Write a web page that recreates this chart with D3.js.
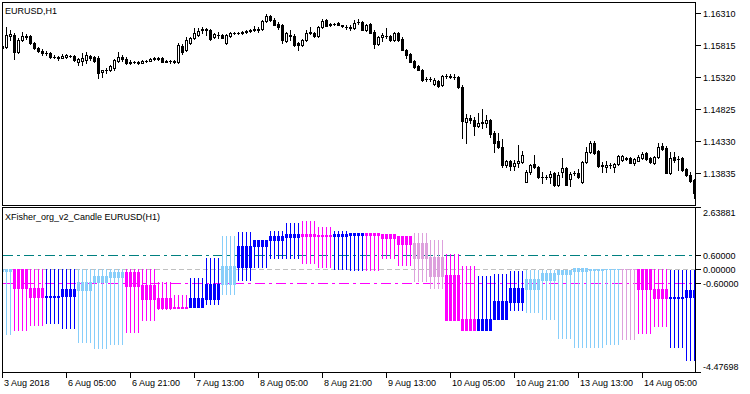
<!DOCTYPE html>
<html><head><meta charset="utf-8">
<script src="https://cdnjs.cloudflare.com/ajax/libs/d3/7.8.5/d3.min.js"></script>
<style>
body{margin:0;background:#fff}
svg{display:block}
text{font-family:"Liberation Sans",Arial,sans-serif;font-size:9px;fill:#000}
</style>
</head><body>
<svg id="c" width="750" height="394"></svg>
<script>
// ---------- DATA ----------
const symbolTitle = "EURUSD,H1";
const indicatorTitle = "XFisher_org_v2_Candle EURUSD(H1)";

const openP = [
1.1580,1.1578,1.1595,1.1597,1.1571,1.1589,1.1594,1.1595,1.1585,1.1577,
1.1572,1.1569,1.1569,1.1563,1.1563,1.1561,1.1563,1.1565,1.1565,1.1555,
1.1557,1.1558,1.1565,1.1563,1.1561,1.1540,1.1543,1.1543,1.1546,1.1557,
1.1563,1.1560,1.1554,1.1555,1.1555,1.1554,1.1557,1.1557,1.1560,1.1560,
1.1561,1.1555,1.1557,1.1557,1.1555,1.1580,1.1574,1.1585,1.1592,1.1597,
1.1605,1.1606,1.1605,1.1594,1.1597,1.1597,1.1585,1.1595,1.1600,1.1600,
1.1600,1.1602,1.1603,1.1605,1.1605,1.1606,1.1619,1.1626,1.1620,1.1614,
1.1612,1.1588,1.1597,1.1595,1.1585,1.1582,1.1589,1.1602,1.1600,1.1595,
1.1609,1.1620,1.1612,1.1614,1.1616,1.1612,1.1609,1.1609,1.1608,1.1617,
1.1617,1.1605,1.1614,1.1602,1.1583,1.1594,1.1595,1.1595,1.1589,1.1600,
1.1591,1.1574,1.1568,1.1557,1.1549,1.1543,1.1529,1.1529,1.1521,1.1526,
1.1520,1.1534,1.1534,1.1532,1.1532,1.1517,1.1462,1.1469,1.1466,1.1456,
1.1461,1.1461,1.1466,1.1445,1.1433,1.1424,1.1396,1.1402,1.1394,1.1399,
1.1401,1.1370,1.1385,1.1397,1.1393,1.1377,1.1377,1.1377,1.1384,1.1365,
1.1385,1.1391,1.1374,1.1384,1.1384,1.1370,1.1401,1.1416,1.1430,1.1418,
1.1396,1.1393,1.1396,1.1393,1.1397,1.1404,1.1407,1.1407,1.1399,1.1402,
1.1407,1.1414,1.1407,1.1399,1.1408,1.1425,1.1422,1.1384,1.1408,1.1405,
1.1407,1.1390,1.1380,1.1373];
const highP = [
1.1583,1.1609,1.1605,1.1600,1.1592,1.1602,1.1598,1.1597,1.1586,1.1578,
1.1575,1.1572,1.1571,1.1566,1.1565,1.1568,1.1568,1.1566,1.1566,1.1561,
1.1569,1.1571,1.1566,1.1565,1.1565,1.1543,1.1546,1.1551,1.1560,1.1571,
1.1566,1.1563,1.1558,1.1557,1.1557,1.1558,1.1558,1.1561,1.1563,1.1563,
1.1563,1.1558,1.1558,1.1558,1.1585,1.1583,1.1594,1.1594,1.1608,1.1608,
1.1609,1.1608,1.1606,1.1600,1.1602,1.1598,1.1598,1.1602,1.1602,1.1602,
1.1603,1.1605,1.1606,1.1611,1.1609,1.1620,1.1629,1.1628,1.1623,1.1617,
1.1614,1.1602,1.1605,1.1598,1.1586,1.1591,1.1605,1.1609,1.1602,1.1611,
1.1622,1.1622,1.1616,1.1616,1.1617,1.1612,1.1612,1.1612,1.1620,1.1622,
1.1619,1.1614,1.1616,1.1605,1.1595,1.1600,1.1608,1.1597,1.1602,1.1602,
1.1594,1.1575,1.1569,1.1558,1.1551,1.1544,1.1532,1.1532,1.1530,1.1527,
1.1535,1.1537,1.1537,1.1537,1.1534,1.1520,1.1475,1.1473,1.1470,1.1476,
1.1483,1.1473,1.1467,1.1449,1.1445,1.1436,1.1404,1.1404,1.1404,1.1427,
1.1418,1.1388,1.1397,1.1411,1.1394,1.1385,1.1380,1.1387,1.1385,1.1385,
1.1407,1.1393,1.1385,1.1387,1.1390,1.1402,1.1424,1.1433,1.1433,1.1419,
1.1401,1.1402,1.1399,1.1399,1.1411,1.1411,1.1408,1.1408,1.1407,1.1411,
1.1416,1.1416,1.1408,1.1410,1.1430,1.1430,1.1425,1.1416,1.1416,1.1410,
1.1408,1.1391,1.1385,1.1374];
const lowP = [
1.1575,1.1577,1.1589,1.1560,1.1569,1.1588,1.1591,1.1583,1.1575,1.1571,
1.1566,1.1566,1.1561,1.1561,1.1558,1.1561,1.1561,1.1563,1.1557,1.1551,
1.1551,1.1554,1.1558,1.1555,1.1530,1.1532,1.1538,1.1541,1.1543,1.1555,
1.1557,1.1552,1.1552,1.1554,1.1552,1.1554,1.1555,1.1557,1.1558,1.1558,
1.1555,1.1555,1.1554,1.1554,1.1554,1.1568,1.1572,1.1583,1.1591,1.1595,
1.1600,1.1597,1.1589,1.1592,1.1592,1.1592,1.1583,1.1594,1.1598,1.1598,
1.1598,1.1600,1.1602,1.1603,1.1602,1.1605,1.1617,1.1619,1.1612,1.1606,
1.1585,1.1586,1.1589,1.1580,1.1574,1.1580,1.1588,1.1598,1.1594,1.1594,
1.1608,1.1611,1.1611,1.1612,1.1612,1.1609,1.1606,1.1605,1.1606,1.1614,
1.1605,1.1603,1.1600,1.1577,1.1582,1.1588,1.1592,1.1588,1.1588,1.1588,
1.1574,1.1561,1.1555,1.1546,1.1543,1.1526,1.1526,1.1526,1.1520,1.1517,
1.1518,1.1530,1.1530,1.1529,1.1515,1.1438,1.1430,1.1461,1.1442,1.1455,
1.1453,1.1455,1.1439,1.1416,1.1422,1.1393,1.1393,1.1388,1.1388,1.1393,
1.1399,1.1370,1.1382,1.1391,1.1376,1.1368,1.1374,1.1368,1.1363,1.1363,
1.1377,1.1365,1.1363,1.1380,1.1376,1.1368,1.1399,1.1414,1.1413,1.1393,
1.1385,1.1385,1.1391,1.1385,1.1396,1.1402,1.1404,1.1399,1.1396,1.1402,
1.1405,1.1404,1.1399,1.1397,1.1407,1.1419,1.1384,1.1382,1.1401,1.1388,
1.1387,1.1379,1.1370,1.1345];
const closeP = [
1.1577,1.1597,1.1598,1.1571,1.1589,1.1595,1.1595,1.1585,1.1577,1.1572,
1.1569,1.1569,1.1563,1.1563,1.1561,1.1565,1.1566,1.1565,1.1558,1.1560,
1.1561,1.1566,1.1561,1.1557,1.1538,1.1543,1.1543,1.1549,1.1558,1.1563,
1.1560,1.1554,1.1555,1.1555,1.1554,1.1557,1.1557,1.1560,1.1561,1.1561,
1.1555,1.1557,1.1557,1.1555,1.1582,1.1571,1.1589,1.1592,1.1600,1.1603,
1.1606,1.1605,1.1591,1.1598,1.1597,1.1592,1.1597,1.1600,1.1600,1.1600,
1.1602,1.1603,1.1605,1.1606,1.1606,1.1619,1.1626,1.1620,1.1612,1.1609,
1.1589,1.1600,1.1595,1.1582,1.1582,1.1589,1.1600,1.1600,1.1595,1.1609,
1.1619,1.1611,1.1614,1.1614,1.1612,1.1611,1.1609,1.1608,1.1616,1.1617,
1.1605,1.1612,1.1600,1.1583,1.1594,1.1597,1.1595,1.1589,1.1600,1.1589,
1.1574,1.1566,1.1555,1.1548,1.1543,1.1527,1.1529,1.1529,1.1527,1.1518,
1.1534,1.1534,1.1532,1.1532,1.1517,1.1464,1.1469,1.1466,1.1456,1.1461,
1.1462,1.1466,1.1444,1.1430,1.1424,1.1396,1.1402,1.1394,1.1399,1.1402,
1.1411,1.1385,1.1396,1.1393,1.1377,1.1377,1.1377,1.1382,1.1365,1.1380,
1.1391,1.1365,1.1382,1.1384,1.1377,1.1401,1.1416,1.1430,1.1414,1.1394,
1.1394,1.1396,1.1396,1.1397,1.1410,1.1410,1.1405,1.1399,1.1405,1.1408,
1.1413,1.1405,1.1401,1.1408,1.1424,1.1421,1.1384,1.1407,1.1404,1.1405,
1.1388,1.1380,1.1371,1.1353];

// XFisher candles, one per H4 block (each block spans several H1 bars)
const fOpen  = [0.00,0.02,-0.80,-1.19,-1.16,-0.88,-0.56,-0.34,-0.12,-0.70,-1.24,-1.61,-1.63,-1.30,-0.62,0.09,0.98,1.27,1.38,1.50,1.46,1.43,1.47,1.55,1.50,1.41,1.12,0.52,-0.27,-2.16,-2.64,-2.15,-1.42,-0.87,-0.48,-0.22,-0.08,-0.02,0.00,0.02,0.02,-0.84,-1.24,-1.20];
const fHigh  = [0.02,0.02,0.02,0.02,0.02,0.02,0.02,0.02,0.02,0.02,-0.56,-1.13,-0.38,0.48,1.43,1.60,1.28,1.63,2.00,2.06,1.84,1.63,1.55,1.55,1.50,1.41,1.55,1.28,0.64,0.12,-0.31,-0.22,-0.08,-0.02,-0.02,-0.02,0.03,0.02,0.02,0.02,0.02,0.02,-0.05,-0.05];
const fLow   = [-2.78,-2.61,-2.42,-2.32,-2.54,-3.14,-3.38,-3.21,-2.71,-2.20,-1.70,-1.65,-1.63,-1.49,-1.09,-0.48,0.09,0.48,0.48,0.26,0.09,-0.01,-0.05,-0.05,0.48,0.16,-0.51,-0.81,-2.20,-2.64,-2.64,-2.15,-1.77,-1.85,-2.16,-2.97,-3.35,-3.35,-3.24,-2.99,-2.75,-2.46,-3.35,-3.90];
const fClose = [-0.07,-0.80,-1.20,-1.14,-0.87,-0.56,-0.31,-0.12,-0.73,-1.30,-1.66,-1.66,-1.24,-0.62,0.12,0.98,1.28,1.41,1.50,1.43,1.42,1.51,1.55,1.46,1.36,1.07,0.48,-0.31,-2.20,-2.64,-2.13,-1.37,-0.81,-0.44,-0.17,-0.02,0.03,0.02,0.02,0.00,-0.84,-1.24,-1.18,-0.91];
const fState = ["L","M","M","B","B","L","L","L","M","M","M","M","B","B","L","B","B","B","B","M","M","B","B","M","M","M","P","P","M","M","B","B","B","L","L","L","L","L","L","P","M","M","B","B"];

const priceTicks  = [1.16310,1.15815,1.15320,1.14825,1.14330,1.13835];
const fisherTicks = [2.63881,0.60000,0.00000,-0.60000,-4.47698];
const levelValues = [0.6,0.0,-0.6];
const timeLabels  = ["3 Aug 2018","6 Aug 05:00","6 Aug 21:00","7 Aug 13:00","8 Aug 05:00","8 Aug 21:00","9 Aug 13:00","10 Aug 05:00","10 Aug 21:00","13 Aug 13:00","14 Aug 05:00"];
const timeLabelBars = [0,16,32,48,64,80,96,112,128,144,160];

// ---------- DRAW ----------
const palette = {M:"#FF00FF",P:"#DDA0DD",B:"#0000FF",L:"#87CEFA"};
const levelStyle = [{c:"#008080",d:"10,4,3,4"},{c:"#C0C0C0",d:"5,3"},{c:"#FF00FF",d:"10,4,3,4"}];
const R = Math.round;
const n = openP.length;
const svg = d3.select("#c");
const x  = d3.scaleLinear().domain([0,173]).range([2,694]);
const yP = d3.scaleLinear().domain([1.13835,1.16310]).range([173,13]);
const yF = d3.scaleLinear().domain([-4.47698,2.63881]).range([373,208]);

const defs = svg.append("defs");
defs.append("clipPath").attr("id","cm").append("rect").attr("x",3).attr("y",3).attr("width",692).attr("height",202);
defs.append("clipPath").attr("id","ci").append("rect").attr("x",3).attr("y",208).attr("width",692).attr("height",164);

// main candles
const gm = svg.append("g").attr("clip-path","url(#cm)");
for (let i=0;i<n;i++){
  const c = R(x(i));
  const yo=R(yP(openP[i])), yc=R(yP(closeP[i])), yh=R(yP(highP[i])), yl=R(yP(lowP[i]));
  gm.append("line").attr("x1",c+0.5).attr("x2",c+0.5).attr("y1",yh).attr("y2",yl+1)
    .attr("stroke","#000").attr("stroke-width",1);
  const top=Math.min(yo,yc), bot=Math.max(yo,yc);
  if (closeP[i]>openP[i] && bot-top>=1){
    gm.append("rect").attr("x",c-0.5).attr("y",top+0.5).attr("width",2).attr("height",bot-top)
      .attr("fill","#fff").attr("stroke","#000").attr("stroke-width",1);
  } else {
    gm.append("rect").attr("x",c-1).attr("y",top).attr("width",3).attr("height",bot-top+1).attr("fill","#000");
  }
}

// indicator levels
const gi = svg.append("g").attr("clip-path","url(#ci)");
levelValues.forEach((v,k)=>{
  const yy=R(yF(v))+0.5;
  gi.append("line").attr("x1",3).attr("x2",695).attr("y1",yy).attr("y2",yy)
    .attr("stroke",levelStyle[k].c).attr("stroke-width",1).attr("stroke-dasharray",levelStyle[k].d);
});
// indicator candles
for (let i=0;i<n;i++){
  const g = i<3 ? 0 : Math.floor((i+1)/4);
  const c = R(x(i));
  const col = palette[fState[g]];
  const yo=R(yF(fOpen[g])), yc=R(yF(fClose[g])), yh=R(yF(fHigh[g])), yl=R(yF(fLow[g]));
  gi.append("line").attr("x1",c+0.5).attr("x2",c+0.5).attr("y1",Math.min(yh,yo,yc)).attr("y2",Math.max(yl,yo,yc)+1)
    .attr("stroke",col).attr("stroke-width",1);
  const top=Math.min(yo,yc), bot=Math.max(yo,yc);
  gi.append("rect").attr("x",c-1).attr("y",top).attr("width",3).attr("height",bot-top+1).attr("fill",col);
}

// frames
const fr = svg.append("g").attr("stroke","#000").attr("stroke-width",1).attr("fill","none");
fr.append("rect").attr("x",2.5).attr("y",2.5).attr("width",693).attr("height",203);
fr.append("rect").attr("x",2.5).attr("y",207.5).attr("width",693).attr("height",165);

// price axis
priceTicks.forEach(v=>{
  const r=R(yP(v));
  svg.append("line").attr("x1",696).attr("x2",701).attr("y1",r+0.5).attr("y2",r+0.5).attr("stroke","#000");
  svg.append("text").attr("x",703).attr("y",r+4).text(v.toFixed(5));
});
// fisher axis
fisherTicks.forEach((v,k)=>{
  let r=R(yF(v));
  if (k===0) r=207;
  if (k===fisherTicks.length-1) r=372;
  svg.append("line").attr("x1",696).attr("x2",701).attr("y1",r+0.5).attr("y2",r+0.5).attr("stroke","#000");
  let ty = r+4;
  if (k===0) ty = r+9;
  if (k===fisherTicks.length-1) ty = r-2;
  svg.append("text").attr("x",703).attr("y",ty).text(v.toFixed(5));
});
// time axis
timeLabels.forEach((t,k)=>{
  const c=R(x(timeLabelBars[k]));
  svg.append("line").attr("x1",c+0.5).attr("x2",c+0.5).attr("y1",373).attr("y2",378).attr("stroke","#000");
  svg.append("text").attr("x",c+2).attr("y",386).text(t);
});

// titles
svg.append("text").attr("x",5).attr("y",14).text(symbolTitle);
svg.append("text").attr("x",5).attr("y",220).text(indicatorTitle);
</script>
</body></html>
